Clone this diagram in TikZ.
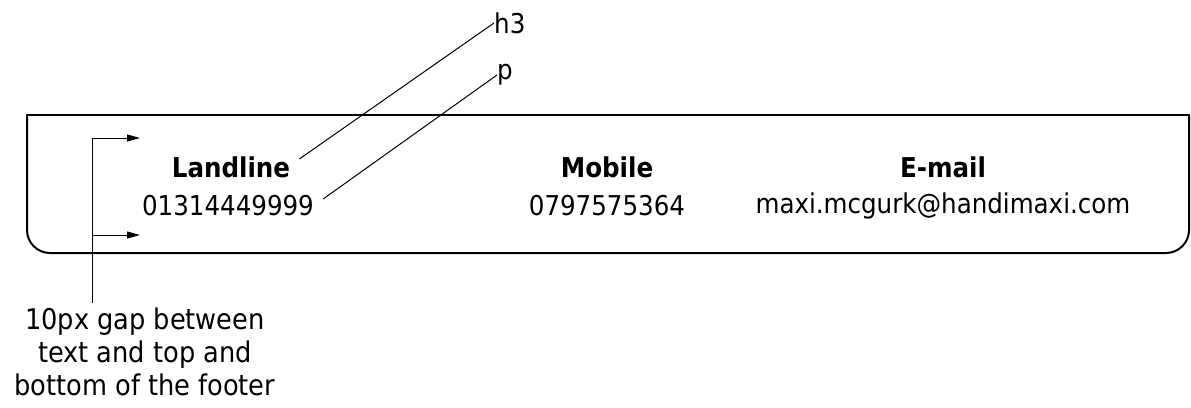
\documentclass[tikz,border=0pt]{standalone}
\usepackage{fontspec}
\setmainfont{DejaVu Sans Condensed}
\usetikzlibrary{arrows.meta,calc}
\begin{document}
\begin{tikzpicture}[x=1pt,y=-1pt,
  txt/.style={inner sep=0pt,font=\fontsize{27.3}{33}\selectfont},
  hd/.style={txt,font=\fontsize{27.3}{33}\selectfont\bfseries},
  note/.style={inner sep=0pt,font=\fontsize{28.5}{33}\selectfont},
  box/.style={line width=2pt,line cap=rect},
  lead/.style={line width=1pt},
  arr/.style={line width=1pt,-{Triangle[length=13pt,width=7pt]}}]
\useasboundingbox (0,0) rectangle (1191,407);
% footer box
\draw[box] (27,115) -- (1189,115);
\draw[box,rounded corners=23pt] (1189,115) -- (1189,253) -- (27,253) -- (27,115);
% texts
\node[hd] (landh) at (231,167) {Landline};
\node[txt] (landp) at (228,206) {01314449999};
\node[hd] (mobh) at (607,167) {Mobile};
\node[txt] (mobp) at (607,206) {0797575364};
\node[hd] (mailh) at (943,167) {E-mail};
\node[txt] (mailp) at (943,206) {maxi.mcgurk@handimaxi.com};
% labels
\node[txt,anchor=west] (h3lab) at (494,23) {h3};
\node[txt,anchor=west] (plab) at (497,75) {p};
\draw[lead] (h3lab.west) -- ($(landh.east)+(9,-8)$);
\draw[lead] (plab.west) -- ($(landp.east)+(9,-7)$);
% gap annotation
\node[note,align=center,anchor=north] (gaplab) at (145,308) {10px gap between\\text and top and\\bottom of the footer};
\coordinate (gend) at (92,303);
\coordinate (gtop) at (92,138);
\coordinate (gbot) at (92,235);
\coordinate (ttop) at (140,138);
\coordinate (tbot) at (140,235);
\draw[arr] (gend) -- (gtop) -- (ttop);
\draw[arr] (gbot) -- (tbot);
\end{tikzpicture}
\end{document}
